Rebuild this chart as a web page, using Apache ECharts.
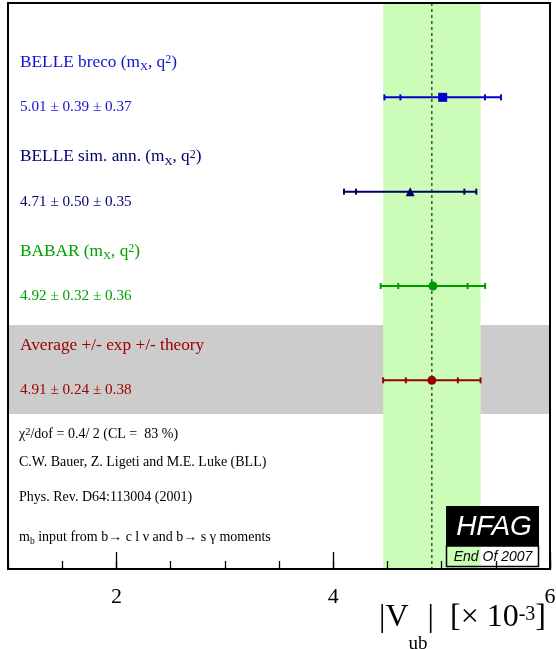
<!DOCTYPE html>
<html><head><meta charset="utf-8">
<script src="https://cdn.jsdelivr.net/npm/echarts@6/dist/echarts.min.js"></script>
<style>html,body{margin:0;padding:0;background:#fff}#c{width:556px;height:649px}</style>
</head><body><div id="c"></div>
<script>
// ---- data ----
const nameLabels = [
  'BELLE breco (m{sub|X}, q{sup|2})',
  'BELLE sim. ann. (m{sub|X}, q{sup|2})',
  'BABAR (m{sub|X}, q{sup|2})',
  'Average +/- exp +/- theory'
];
const centralValues = [5.01, 4.71, 4.92, 4.91];
const expErrors = [0.39, 0.50, 0.32, 0.24];
const theoryErrors = [0.37, 0.35, 0.36, 0.38];
const rowPositions = [5, 4, 3, 2];
const majorTicks = [2, 4, 6];
const minorTickStep = 0.5;
const xRange = [1, 6];
const yRange = [0, 6];
const footnotes = [
  '{n|χ}{sup|2}{n|/dof = 0.4/ 2 (CL =  83 %)}',
  '{n|C.W. Bauer, Z. Ligeti and M.E. Luke (BLL)}',
  '{n|Phys. Rev. D64:113004 (2001)}',
  '{n|m}{sub|b}{n| input from b→ c l ν and b→ s γ moments}'
];

// ---- styles ----
const rowColors = ['#1212d4', '#00006e', '#00a000', '#a00000'];
const markerColors = ['#0000cc', '#000066', '#009900', '#990000'];
const markerSymbols = ['rect', 'triangle', 'circle', 'circle'];
const markerSizes = [9, 9, 9, 9];
const SERIF = 'Liberation Serif';
const SANS = 'Liberation Sans';

const totalErrors = expErrors.map((e, i) => Math.sqrt(e * e + theoryErrors[i] * theoryErrors[i]));
const avgIdx = 3;
const bandLow = centralValues[avgIdx] - totalErrors[avgIdx];
const bandHigh = centralValues[avgIdx] + totalErrors[avgIdx];

const chart = echarts.init(document.getElementById('c'), null, {renderer: 'canvas'});

function richFor(color, size, subSize) {
  return {
    n: {fontFamily: SERIF, fontSize: size, fill: color, color: color},
    sub: {fontFamily: SERIF, fontSize: subSize, fill: color, color: color, padding: [Math.round(size * 0.6), 0, 0, 0]},
    sup: {fontFamily: SERIF, fontSize: subSize + 1, fill: color, color: color, padding: [0, 0, Math.round(size * 0.25), 0]}
  };
}

const option = {
  animation: false,
  backgroundColor: '#fff',
  grid: {left: 8, right: 6, top: 3, bottom: 80, show: true, borderColor: '#000', borderWidth: 2,
         backgroundColor: 'transparent', z: 10, containLabel: false, outerBoundsMode: 'none'},
  xAxis: [
    {type: 'value', min: xRange[0], max: xRange[1], interval: minorTickStep, position: 'bottom', z: 10,
     axisLine: {show: false},
     axisTick: {show: true, inside: true, length: 8, lineStyle: {color: '#000', width: 1.3}},
     axisLabel: {show: false}, splitLine: {show: false}},
    {type: 'value', min: xRange[0], max: xRange[1], position: 'bottom', z: 10,
     axisLine: {show: true, onZero: false, lineStyle: {color: '#000', width: 2}},
     axisTick: {show: true, inside: true, length: 17, customValues: majorTicks, lineStyle: {color: '#000', width: 1.3}},
     axisLabel: {show: true, customValues: majorTicks, fontFamily: SERIF, fontSize: 22, color: '#000', margin: 17,
                 showMaxLabel: true, showMinLabel: true},
     splitLine: {show: false}}
  ],
  yAxis: {type: 'value', min: yRange[0], max: yRange[1], show: false},
  series: [
    { // gray band behind average row
      type: 'custom', z: 1, silent: true, xAxisIndex: 0,
      data: [[rowPositions[avgIdx]]],
      renderItem: (params, api) => {
        const r = api.value(0);
        const p1 = api.coord([xRange[0], r + 0.587]);
        const p2 = api.coord([xRange[1], r - 0.357]);
        return {type: 'rect', shape: {x: p1[0], y: p1[1], width: p2[0] - p1[0], height: p2[1] - p1[1]},
                style: {fill: '#cccccc'}};
      }
    },
    { // green band: average +/- total error
      type: 'custom', z: 2, silent: true, xAxisIndex: 0,
      data: [[bandLow, bandHigh]],
      renderItem: (params, api) => {
        const p1 = api.coord([api.value(0), yRange[1]]);
        const p2 = api.coord([api.value(1), yRange[0]]);
        return {type: 'rect', shape: {x: p1[0], y: p1[1], width: p2[0] - p1[0], height: p2[1] - p1[1]},
                style: {fill: '#ccfdb8'}};
      }
    },
    { // dashed average line
      type: 'custom', z: 3, silent: true, xAxisIndex: 0,
      data: [[centralValues[avgIdx]]],
      renderItem: (params, api) => {
        const p1 = api.coord([api.value(0), yRange[1]]);
        const p2 = api.coord([api.value(0), yRange[0]]);
        return {type: 'line', shape: {x1: p1[0], y1: p1[1], x2: p2[0], y2: p2[1]},
                style: {stroke: '#333', lineWidth: 1.3, lineDash: [3, 3]}};
      }
    },
    { // error bars
      type: 'custom', z: 4, silent: true, xAxisIndex: 0,
      data: centralValues.map((v, i) => [v, rowPositions[i], expErrors[i], totalErrors[i]]),
      renderItem: (params, api) => {
        const v = api.value(0), r = api.value(1), e = api.value(2), t = api.value(3);
        const color = markerColors[params.dataIndex];
        const L = api.coord([v - t, r]), R = api.coord([v + t, r]);
        const El = api.coord([v - e, r]), Er = api.coord([v + e, r]);
        const children = [{type: 'line', shape: {x1: L[0], y1: L[1], x2: R[0], y2: R[1]},
                           style: {stroke: color, lineWidth: 2}}];
        [L, El, Er, R].forEach(p => children.push({type: 'line',
          shape: {x1: p[0], y1: p[1] - 3, x2: p[0], y2: p[1] + 3}, style: {stroke: color, lineWidth: 2}}));
        return {type: 'group', children};
      }
    },
    { // markers
      type: 'scatter', z: 5, silent: true, xAxisIndex: 0,
      data: centralValues.map((v, i) => ({value: [v, rowPositions[i]], symbol: markerSymbols[i],
        symbolSize: markerSizes[i], itemStyle: {color: markerColors[i], opacity: 1}}))
    },
    { // row labels
      type: 'custom', z: 6, silent: true, xAxisIndex: 0,
      data: rowPositions.map(r => [xRange[0], r]),
      renderItem: (params, api) => {
        const i = params.dataIndex;
        const p = api.coord([api.value(0), api.value(1)]);
        const color = rowColors[i];
        const valText = centralValues[i].toFixed(2) + ' ± ' + expErrors[i].toFixed(2) + ' ± ' + theoryErrors[i].toFixed(2);
        return {type: 'group', children: [
          {type: 'text', x: p[0] + 12, y: p[1] - 35,
           style: {text: nameLabels[i].replace(/^([^{]+)/, '{n|$1}').replace(/\}([^{]+)/g, '}{n|$1}'),
                   rich: richFor(color, 17.3, 11), fill: color, fontFamily: SERIF, fontSize: 17.3,
                   align: 'left', verticalAlign: 'middle'}},
          {type: 'text', x: p[0] + 12, y: p[1] + 10,
           style: {text: valText, fill: color, fontFamily: SERIF, fontSize: 15.2,
                   align: 'left', verticalAlign: 'middle'}}
        ]};
      }
    }
  ],
  graphic: [
    {type: 'text', left: 19, top: 427, z: 20, style: {text: footnotes[0], rich: richFor('#000', 14, 9.5), fill: '#000'}},
    {type: 'text', left: 19, top: 455, z: 20, style: {text: footnotes[1], rich: richFor('#000', 14, 9.5), fill: '#000'}},
    {type: 'text', left: 19, top: 490, z: 20, style: {text: footnotes[2], rich: richFor('#000', 14, 9.5), fill: '#000'}},
    {type: 'text', left: 19, top: 530, z: 20, style: {text: footnotes[3], rich: richFor('#000', 14, 9.5), fill: '#000'}},
    {type: 'rect', z: 30, shape: {x: 446, y: 506, width: 93, height: 40}, style: {fill: '#000'}},
    {type: 'rect', z: 30, shape: {x: 446.5, y: 546, width: 92, height: 20.5}, style: {fill: 'transparent', stroke: '#000', lineWidth: 1.5}},
    {type: 'text', z: 31, x: 494, y: 527, style: {text: 'HFAG', fill: '#fff', fontFamily: SANS, fontStyle: 'italic',
      fontSize: 28, align: 'center', verticalAlign: 'middle'}},
    {type: 'text', z: 31, x: 493, y: 557, style: {text: 'End Of 2007', fill: '#000', fontFamily: SANS, fontStyle: 'italic',
      fontSize: 14, align: 'center', verticalAlign: 'middle'}},
    {type: 'text', x: 546, y: 618, z: 20, style: {
      text: '{n||V}{sub|ub}{n||  [× 10}{sup|-3}{n|]}',
      rich: {
        n: {fontFamily: SERIF, fontSize: 32, fill: '#000'},
        sub: {fontFamily: SERIF, fontSize: 19, fill: '#000', padding: [52, 0, 0, 0]},
        sup: {fontFamily: SERIF, fontSize: 20, fill: '#000', padding: [0, 0, 6, 0]}
      },
      align: 'right', verticalAlign: 'middle'}}
  ]
};
chart.setOption(option);
</script>
</body></html>
